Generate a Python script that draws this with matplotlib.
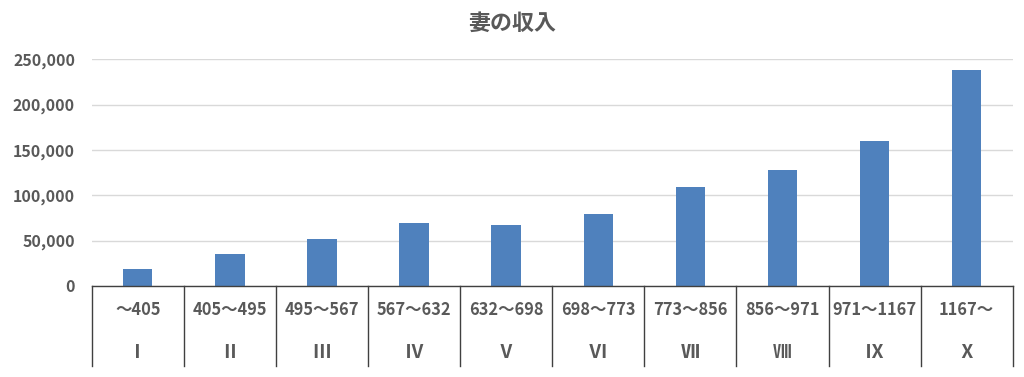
import matplotlib
matplotlib.use("Agg")
import matplotlib.pyplot as plt
from matplotlib.ticker import FuncFormatter

plt.rcParams['font.family'] = ['Noto Sans CJK JP', 'DejaVu Sans']

title = "妻の収入"
ranges = ["～405", "405～495", "495～567", "567～632", "632～698",
          "698～773", "773～856", "856～971", "971～1167", "1167～"]
classes = ["Ⅰ", "Ⅱ", "Ⅲ", "Ⅳ", "Ⅴ", "Ⅵ", "Ⅶ", "Ⅷ", "Ⅸ", "Ⅹ"]
values = [18400, 35300, 52200, 69100, 66900, 79700, 108900, 127900, 160300, 237900]
yticks = [0, 50000, 100000, 150000, 200000, 250000]

text_color = "#595959"
bar_color = "#4F81BD"

fig = plt.figure(figsize=(10.24, 3.77), dpi=100)
ax = fig.add_axes([91.7/1024, 1-286/377, (1012.7-91.7)/1024, (286-59.3)/377])

x = list(range(len(values)))
ax.bar(x, values, width=0.32, color=bar_color, zorder=3)
ax.set_xlim(-0.5, len(values) - 0.5)
ax.set_ylim(0, 250000)
ax.set_yticks(yticks)
ax.yaxis.set_major_formatter(FuncFormatter(lambda v, p: f"{int(v):,}"))
ax.tick_params(axis='y', length=0, pad=12, labelsize=11.5, labelcolor=text_color)
for lab in ax.get_yticklabels():
    lab.set_fontweight('bold')
ax.set_xticks([])
ax.grid(axis='y', color='#d9d9d9', linewidth=1, zorder=0)
for s in ['top', 'right', 'left']:
    ax.spines[s].set_visible(False)
ax.spines['bottom'].set_color('#404040')
ax.spines['bottom'].set_linewidth(1)
ax.spines['bottom'].set_zorder(4)

trans = ax.get_xaxis_transform()
axh = 286 - 59.3
bottom_y = -(366 - 286) / axh
for b in [i - 0.5 for i in range(len(values) + 1)]:
    ax.plot([b, b], [0, bottom_y], transform=trans, color='#404040',
            linewidth=1, clip_on=False)
row1 = -(310 - 286) / axh
row2 = -(352.7 - 286) / axh
for i in x:
    ax.text(i, row1, ranges[i], transform=trans, ha='center', va='center',
            fontsize=11.8, fontweight='bold', color=text_color)
    ax.text(i, row2, classes[i], transform=trans, ha='center', va='center',
            fontsize=13.5, fontweight='bold', color=text_color)

fig.text(0.5, 1 - 23/377, title, ha='center', va='center', fontsize=15.8,
         fontweight='bold', color=text_color)

fig.savefig("out.png", dpi=100)
